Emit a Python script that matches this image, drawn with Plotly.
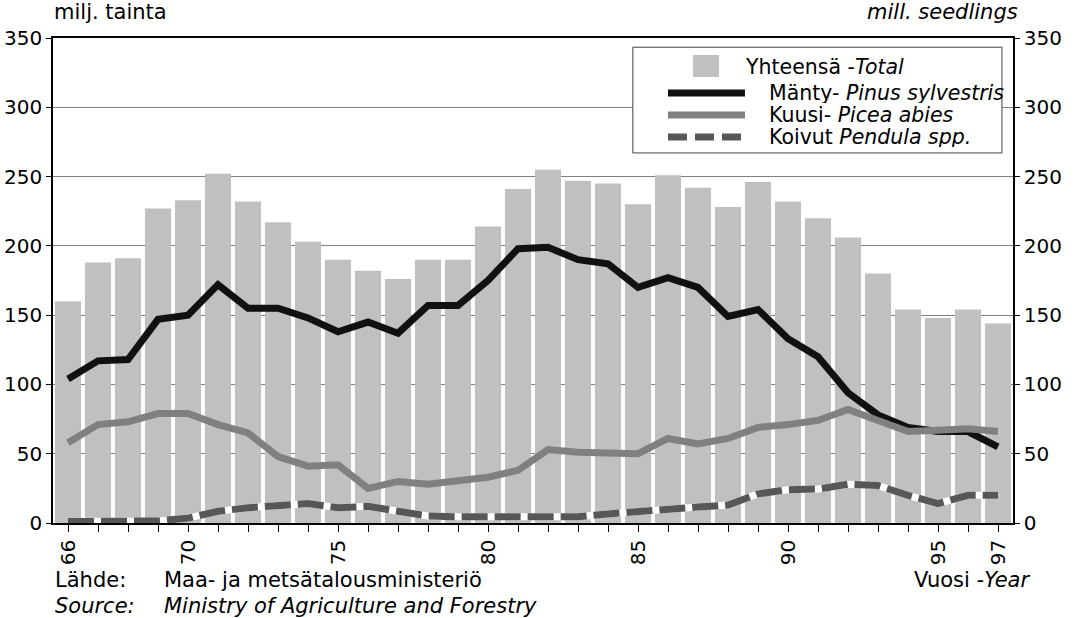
import plotly.graph_objects as go

# Seedling production in Finland, million seedlings
years = list(range(66, 98))
year_labels = {66: "66", 70: "70", 75: "75", 80: "80", 85: "85", 90: "90", 95: "95", 97: "97"}

total = [160, 188, 191, 227, 233, 252, 232, 217, 203, 190, 182, 176, 190, 190, 214, 241,
         255, 247, 245, 230, 251, 242, 228, 246, 232, 220, 206, 180, 154, 148, 154, 144]
pine = [104, 117, 118, 147, 150, 172, 155, 155, 148, 138, 145, 137, 157, 157, 175, 198,
        199, 190, 187, 170, 177, 170, 149, 154, 133, 120, 94, 78, 69, 66, 66, 55]
spruce = [58, 71, 73, 79, 79, 71, 65, 48, 41, 42, 25, 30, 28, 30, 33, 38,
          53, 51, 51, 50, 61, 57, 61, 69, 71, 74, 82, 74, 66, 67, 68, 66]
birch = [1, 1, 1, 1.5, 3.5, 8.5, 11, 13, 14, 11, 12, 8.5, 5, 4.5, 4.5, 4.5,
         4, 4.5, 6.5, 8.5, 10, 11.5, 13, 21, 24, 24.5, 28, 27, 20, 14, 20, 20]

FONT = "DejaVu Sans, Liberation Sans, Arial"
BAR = "#c0c0c0"
PINE = "#111111"
SPRUCE = "#808080"
BIRCH = "#575757"

fig = go.Figure()

fig.add_trace(go.Bar(x=years, y=total, marker=dict(color=BAR, line=dict(width=0)),
                     name="Yhteensä", showlegend=False))
fig.add_trace(go.Scatter(x=years, y=pine, mode="lines", showlegend=False,
                         line=dict(color=PINE, width=7)))
fig.add_trace(go.Scatter(x=years, y=spruce, mode="lines", showlegend=False,
                         line=dict(color=SPRUCE, width=7)))
# white underlay so the gaps in the dashed line show white
fig.add_trace(go.Scatter(x=years, y=birch, mode="lines", showlegend=False,
                         line=dict(color="white", width=7)))
fig.add_trace(go.Scatter(x=years, y=birch, mode="lines", showlegend=False,
                         line=dict(color=BIRCH, width=7, dash="26px,7px")))
# invisible trace to carry the right-hand axis
fig.add_trace(go.Scatter(x=years, y=total, yaxis="y2", mode="lines", showlegend=False,
                         line=dict(width=0), opacity=0, hoverinfo="skip"))

# hand-drawn legend box (paper coords)
shapes = [
    dict(type="rect", xref="paper", yref="paper", x0=0.604, x1=0.9885, y0=0.763, y1=0.981,
         line=dict(color="#404040", width=1), fillcolor="white", layer="above"),
    dict(type="rect", xref="paper", yref="paper", x0=0.6667, x1=0.6938, y0=0.9196, y1=0.965,
         line=dict(width=0), fillcolor=BAR, layer="above"),
    dict(type="line", xref="paper", yref="paper", x0=0.6406, x1=0.7208, y0=0.8866, y1=0.8866,
         line=dict(color=PINE, width=7), layer="above"),
    dict(type="line", xref="paper", yref="paper", x0=0.6406, x1=0.7208, y0=0.8412, y1=0.8412,
         line=dict(color=SPRUCE, width=7), layer="above"),
    dict(type="line", xref="paper", yref="paper", x0=0.6406, x1=0.7208, y0=0.7959, y1=0.7959,
         line=dict(color=BIRCH, width=7, dash="19px,8px"), layer="above"),
]

legend_items = [
    (0.71875, 0.9402, "Yhteensä -<i>Total</i>"),
    (0.74375, 0.8866, "Mänty- <i>Pinus sylvestris</i>"),
    (0.74375, 0.8412, "Kuusi- <i>Picea abies</i>"),
    (0.74375, 0.7959, "Koivut <i>Pendula spp.</i>"),
]
annotations = []
for lx, ly, txt in legend_items:
    annotations.append(dict(xref="paper", yref="paper", x=lx, y=ly, text=txt, showarrow=False,
                            xanchor="left", yanchor="middle", height=20,
                            font=dict(size=20.5, color="black")))

text_notes = [
    (-0.001, 1.0536, "milj. tainta", "left"),
    (1.0073, 1.0536, "<i>mill. seedlings</i>", "right"),
    (0.0, -0.1175, "Lähde:", "left"),
    (0.1135, -0.1175, "Maa- ja metsätalousministeriö", "left"),
    (0.0, -0.171, "<i>Source:</i>", "left"),
    (0.1135, -0.171, "<i>Ministry of Agriculture and Forestry</i>", "left"),
    (1.0198, -0.1175, "Vuosi -<i>Year</i>", "right"),
]
for nx, ny, txt, anchor in text_notes:
    annotations.append(dict(xref="paper", yref="paper", x=nx, y=ny, text=txt, showarrow=False,
                            xanchor=anchor, yanchor="middle", font=dict(size=21, color="black")))

yticks = list(range(0, 351, 50))

fig.update_layout(
    width=1075,
    height=618,
    margin=dict(l=53, r=62, t=38, b=95, autoexpand=False),
    paper_bgcolor="white",
    plot_bgcolor="white",
    font=dict(family=FONT, size=20, color="black"),
    bargap=0.13,
    showlegend=False,
    shapes=shapes,
    annotations=annotations,
    xaxis=dict(
        range=[65.5, 97.5],
        tickvals=years,
        ticktext=[year_labels.get(y, "") for y in years],
        tickangle=-90,
        ticks="outside", ticklen=7, tickcolor="black", tickwidth=1,
        showline=True, linecolor="black", linewidth=1.5, mirror=True,
        showgrid=False, zeroline=False,
        tickfont=dict(size=20),
    ),
    yaxis=dict(
        range=[0, 350],
        tickvals=yticks,
        ticks="outside", ticklen=5, tickcolor="black",
        showline=True, linecolor="black", linewidth=1.5,
        showgrid=True, gridcolor="#808080", gridwidth=1,
        zeroline=False,
        tickfont=dict(size=20),
    ),
    yaxis2=dict(
        range=[0, 350],
        overlaying="y", side="right",
        tickvals=yticks,
        ticks="outside", ticklen=5, tickcolor="black",
        showline=True, linecolor="black", linewidth=1.5,
        showgrid=False, zeroline=False,
        tickfont=dict(size=20),
    ),
)

# drop the page's default body margin so the figure sits at the window corner
fig.write_html("out.html", config={"displayModeBar": False},
               post_script="document.body.style.margin='0';")
